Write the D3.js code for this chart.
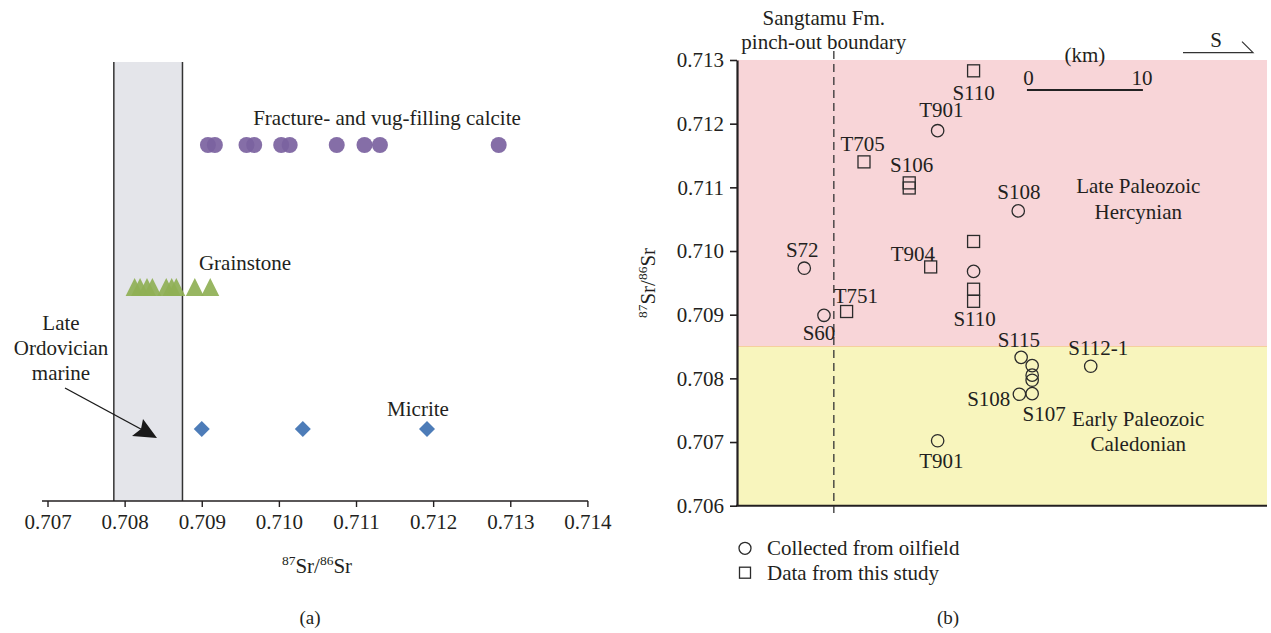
<!DOCTYPE html>
<html>
<head>
<meta charset="utf-8">
<script src="https://cdn.jsdelivr.net/npm/d3@7"></script>
<style>
  body { margin: 0; background: #fff; }
  svg { display: block; }
  text { font-family: "Liberation Serif", "Times New Roman", serif; fill: #231f20; }
</style>
</head>
<body>
<svg id="chart" width="1271" height="633"></svg>
<script>
// ---------- Panel (a): 87Sr/86Sr by lithology ----------
const lithologies = ["Fracture- and vug-filling calcite", "Grainstone", "Micrite"];
const calciteSr = [0.70908, 0.70917, 0.70958, 0.70968, 0.71003, 0.71014, 0.71075, 0.71111, 0.71131, 0.71285];
const grainstoneSr = [0.70813, 0.70820, 0.70829, 0.70836, 0.70854, 0.70861, 0.70867, 0.70891, 0.70911];
const micriteSr = [0.70900, 0.71031, 0.71192];
const ordovicianBand = [0.70786, 0.70875];
const ticksA = [0.707, 0.708, 0.709, 0.710, 0.711, 0.712, 0.713, 0.714];

// ---------- Panel (b): 87Sr/86Sr along the section ----------
const wellNames  = ["S110", "T901", "T705", "S106", "S106", "S108", "S72", "S60", "T751", "T904",
                    "S110", "S110", "S110", "S110", "S115", "S107", "S107", "S107", "S107", "S108",
                    "S112-1", "T901"];
const wellKm     = [20.4, 17.3, 10.95, 14.85, 14.85, 24.25, 5.8, 7.5, 9.45, 16.7,
                    20.4, 20.4, 20.4, 20.4, 24.5, 25.45, 25.45, 25.45, 25.45, 24.35,
                    30.5, 17.3];
const wellSr     = [0.71283, 0.71189, 0.71140, 0.71107, 0.71099, 0.71063, 0.70973, 0.70899, 0.70905, 0.70975,
                    0.71015, 0.70968, 0.70940, 0.70921, 0.70833, 0.70820, 0.70805, 0.70797, 0.70776, 0.70775,
                    0.70819, 0.70702];
const wellSource = ["study", "oilfield", "study", "study", "study", "oilfield", "oilfield", "oilfield", "study", "study",
                    "study", "oilfield", "study", "study", "oilfield", "oilfield", "oilfield", "oilfield", "oilfield", "oilfield",
                    "oilfield", "oilfield"];
const ticksB = [0.706, 0.707, 0.708, 0.709, 0.710, 0.711, 0.712, 0.713];
const pinchOutKm = 8.35;
const eraBoundarySr = 0.7085;
const scaleBarKm = [25, 35];

// label anchors: which sample each well name sits beside, and its offset in px
const wellLabels = [
  { i: 0, dx: 0, dy: 21.7 }, { i: 1, dx: 3.7, dy: -21.4 }, { i: 2, dx: -1.3, dy: -18.4 },
  { i: 3, dx: 2.4, dy: -18.7 }, { i: 5, dx: 0.7, dy: -19.3 }, { i: 6, dx: -2, dy: -18.3 },
  { i: 7, dx: -5, dy: 17.6 }, { i: 8, dx: 9.3, dy: -16 }, { i: 9, dx: -17.7, dy: -13.7 },
  { i: 13, dx: 1, dy: 17.6 }, { i: 14, dx: -2.3, dy: -17.3 }, { i: 18, dx: 12, dy: 20 },
  { i: 19, dx: -30.6, dy: 4.7 }, { i: 20, dx: 7.6, dy: -18.4 }, { i: 21, dx: 3.7, dy: 19.7 }
];

const FS = 21;
const SUP = 13.5;
const ink = "#231f20";
const svg = d3.select("#chart");

// superscripted "87Sr/86Sr"
function srRatio(sel) {
  sel.append("tspan").attr("font-size", SUP).attr("dy", -8).text("87");
  sel.append("tspan").attr("font-size", FS).attr("dy", 8).text("Sr/");
  sel.append("tspan").attr("font-size", SUP).attr("dy", -8).text("86");
  sel.append("tspan").attr("font-size", FS).attr("dy", 8).text("Sr");
}

// ================= Panel (a) =================
const xA = d3.scaleLinear().domain([0.707, 0.714]).range([47.5, 587.4]);
const yA = d3.scalePoint().domain(lithologies).range([145, 429]);
const axisYA = 501;
const gA = svg.append("g");

// Late Ordovician seawater band
gA.append("rect")
  .attr("x", xA(ordovicianBand[0])).attr("y", 62)
  .attr("width", xA(ordovicianBand[1]) - xA(ordovicianBand[0]))
  .attr("height", axisYA - 62)
  .attr("fill", "#e4e5ea");
ordovicianBand.forEach(v => {
  gA.append("line").attr("x1", xA(v)).attr("x2", xA(v)).attr("y1", 62).attr("y2", axisYA)
    .attr("stroke", "#333").attr("stroke-width", 1.5);
});

// x axis
const axA = gA.append("g").attr("transform", `translate(0,${axisYA})`)
  .call(d3.axisBottom(xA).tickValues(ticksA).tickFormat(d3.format(".3f")).tickSize(6).tickSizeOuter(0));
axA.select(".domain").remove();
axA.append("line").attr("x1", 42).attr("x2", 588).attr("stroke", ink).attr("stroke-width", 1.6);
axA.selectAll(".tick line").attr("stroke", ink).attr("stroke-width", 1.4);
axA.selectAll(".tick text").attr("font-size", FS).attr("font-family", "Liberation Serif").attr("fill", ink).attr("dy", "0.9em");

gA.append("text").attr("x", 317).attr("y", 573).attr("text-anchor", "middle").attr("font-size", FS).call(srRatio);

// calcite circles
gA.append("g").selectAll("circle").data(calciteSr).join("circle")
  .attr("cx", d => xA(d)).attr("cy", yA(lithologies[0])).attr("r", 8)
  .attr("fill", "#7b629f").attr("fill-opacity", 0.92);

// grainstone triangles
gA.append("g").selectAll("path").data(grainstoneSr).join("path")
  .attr("d", d => {
    const cx = xA(d), cy = yA(lithologies[1]);
    return `M${cx - 9},${cy + 9}L${cx},${cy - 9}L${cx + 9},${cy + 9}Z`;
  })
  .attr("fill", "#8fb055").attr("fill-opacity", 0.92);

// micrite diamonds
gA.append("g").selectAll("path").data(micriteSr).join("path")
  .attr("d", d => {
    const cx = xA(d), cy = yA(lithologies[2]);
    return `M${cx},${cy - 8}L${cx + 8},${cy}L${cx},${cy + 8}L${cx - 8},${cy}Z`;
  })
  .attr("fill", "#4d7cb8");

// lithology labels
gA.append("text").attr("x", 387).attr("y", 118).attr("dy", "0.35em").attr("text-anchor", "middle")
  .attr("font-size", FS).text(lithologies[0]);
gA.append("text").attr("x", 245).attr("y", 263).attr("dy", "0.35em").attr("text-anchor", "middle")
  .attr("font-size", FS).text(lithologies[1]);
gA.append("text").attr("x", 418).attr("y", 409).attr("dy", "0.35em").attr("text-anchor", "middle")
  .attr("font-size", FS).text(lithologies[2]);

// Late Ordovician marine note with arrow
const note = gA.append("text").attr("text-anchor", "middle").attr("font-size", FS);
["Late", "Ordovician", "marine"].forEach((t, k) => {
  note.append("tspan").attr("x", 61).attr("y", 323 + k * 25).attr("dy", "0.35em").text(t);
});
gA.append("line").attr("x1", 65).attr("y1", 388).attr("x2", 150).attr("y2", 434)
  .attr("stroke", "#1a1a1a").attr("stroke-width", 1.4);
gA.append("path")
  .attr("d", "M157,438 L132,436 L141,429 L143,419 Z")
  .attr("fill", "#1a1a1a");

gA.append("text").attr("x", 310).attr("y", 617).attr("dy", "0.35em").attr("text-anchor", "middle")
  .attr("font-size", 19).text("(a)");

// ================= Panel (b) =================
const xB = d3.scaleLinear().domain([0, 45.7]).range([737, 1267]);
const yB = d3.scaleLinear().domain([0.706, 0.713]).range([505.7, 60]);
const gB = svg.append("g");

// tectonic era backgrounds
gB.append("rect").attr("x", xB(0)).attr("y", yB(0.713))
  .attr("width", xB(45.7) - xB(0)).attr("height", yB(eraBoundarySr) - yB(0.713))
  .attr("fill", "#f8d5d8");
gB.append("rect").attr("x", xB(0)).attr("y", yB(eraBoundarySr))
  .attr("width", xB(45.7) - xB(0)).attr("height", yB(0.706) - yB(eraBoundarySr))
  .attr("fill", "#f8f5bd");
gB.append("line").attr("x1", xB(0)).attr("x2", xB(45.7)).attr("y1", yB(eraBoundarySr)).attr("y2", yB(eraBoundarySr))
  .attr("stroke", "#f5d09c").attr("stroke-width", 1);

// y axis
const axB = gB.append("g").attr("transform", `translate(${xB(0)},0)`)
  .call(d3.axisLeft(yB).tickValues(ticksB).tickFormat(d3.format(".3f")).tickSize(7).tickSizeOuter(0));
axB.select(".domain").attr("stroke", ink).attr("stroke-width", 2.2);
axB.selectAll(".tick line").attr("stroke", ink).attr("stroke-width", 1.6);
axB.selectAll(".tick text").attr("font-size", FS).attr("font-family", "Liberation Serif").attr("fill", ink).attr("x", -13);
gB.append("line").attr("x1", xB(0) - 1).attr("x2", xB(45.7)).attr("y1", yB(0.706)).attr("y2", yB(0.706))
  .attr("stroke", ink).attr("stroke-width", 2);

gB.append("text").attr("transform", `translate(655,283) rotate(-90)`).attr("text-anchor", "middle")
  .attr("font-size", FS).call(srRatio);

// Sangtamu Fm. pinch-out boundary
gB.append("line").attr("x1", xB(pinchOutKm)).attr("x2", xB(pinchOutKm)).attr("y1", 51).attr("y2", 513)
  .attr("stroke", "#333").attr("stroke-width", 1.3).attr("stroke-dasharray", "8,5");
gB.append("text").attr("x", xB(pinchOutKm) - 10).attr("y", 18).attr("dy", "0.35em").attr("text-anchor", "middle")
  .attr("font-size", FS).text("Sangtamu Fm.");
gB.append("text").attr("x", xB(pinchOutKm) - 10).attr("y", 42).attr("dy", "0.35em").attr("text-anchor", "middle")
  .attr("font-size", FS).text("pinch-out boundary");

// samples
const wells = wellNames.map((n, i) => ({ name: n, km: wellKm[i], sr: wellSr[i], src: wellSource[i] }));
gB.append("g").selectAll("circle").data(wells.filter(d => d.src === "oilfield")).join("circle")
  .attr("cx", d => xB(d.km)).attr("cy", d => yB(d.sr)).attr("r", 6.2)
  .attr("fill", "none").attr("stroke", "#2b2b2b").attr("stroke-width", 1.3);
gB.append("g").selectAll("rect").data(wells.filter(d => d.src === "study")).join("rect")
  .attr("x", d => xB(d.km) - 6).attr("y", d => yB(d.sr) - 6).attr("width", 12).attr("height", 12)
  .attr("fill", "none").attr("stroke", "#2b2b2b").attr("stroke-width", 1.3);

// well names
gB.append("g").selectAll("text").data(wellLabels).join("text")
  .attr("x", d => xB(wells[d.i].km) + d.dx).attr("y", d => yB(wells[d.i].sr) + d.dy)
  .attr("dy", "0.35em").attr("text-anchor", "middle").attr("font-size", FS)
  .text(d => wells[d.i].name);

// era labels
const eraX = xB(34.6);
[["Late Paleozoic", 186], ["Hercynian", 212], ["Early Paleozoic", 419], ["Caledonian", 444]].forEach(([t, y]) => {
  gB.append("text").attr("x", eraX).attr("y", y).attr("dy", "0.35em").attr("text-anchor", "middle")
    .attr("font-size", FS).text(t);
});

// scale bar
gB.append("line").attr("x1", xB(scaleBarKm[0])).attr("x2", xB(scaleBarKm[1])).attr("y1", 90).attr("y2", 90)
  .attr("stroke", "#222").attr("stroke-width", 2.2);
gB.append("text").attr("x", xB(scaleBarKm[0]) + 1.5).attr("y", 78).attr("dy", "0.35em").attr("text-anchor", "middle")
  .attr("font-size", FS).text("0");
gB.append("text").attr("x", xB(scaleBarKm[1]) - 1).attr("y", 78).attr("dy", "0.35em").attr("text-anchor", "middle")
  .attr("font-size", FS).text("10");
gB.append("text").attr("x", (xB(scaleBarKm[0]) + xB(scaleBarKm[1])) / 2).attr("y", 55).attr("dy", "0.35em")
  .attr("text-anchor", "middle").attr("font-size", FS).text("(km)");

// section direction
gB.append("path").attr("d", "M1183,52.7 L1253,52.7 L1242,41.7").attr("fill", "none")
  .attr("stroke", "#333").attr("stroke-width", 1.2);
gB.append("text").attr("x", 1216).attr("y", 40).attr("dy", "0.35em").attr("text-anchor", "middle")
  .attr("font-size", FS).text("S");

// legend
gB.append("circle").attr("cx", 745).attr("cy", 548.3).attr("r", 6)
  .attr("fill", "none").attr("stroke", "#2b2b2b").attr("stroke-width", 1.3);
gB.append("rect").attr("x", 739.5).attr("y", 567.2).attr("width", 11).attr("height", 11)
  .attr("fill", "none").attr("stroke", "#2b2b2b").attr("stroke-width", 1.3);
gB.append("text").attr("x", 767).attr("y", 548).attr("dy", "0.35em").attr("font-size", FS).text("Collected from oilfield");
gB.append("text").attr("x", 767).attr("y", 573).attr("dy", "0.35em").attr("font-size", FS).text("Data from this study");

gB.append("text").attr("x", 948).attr("y", 617).attr("dy", "0.35em").attr("text-anchor", "middle")
  .attr("font-size", 19).text("(b)");
</script>
</body>
</html>
